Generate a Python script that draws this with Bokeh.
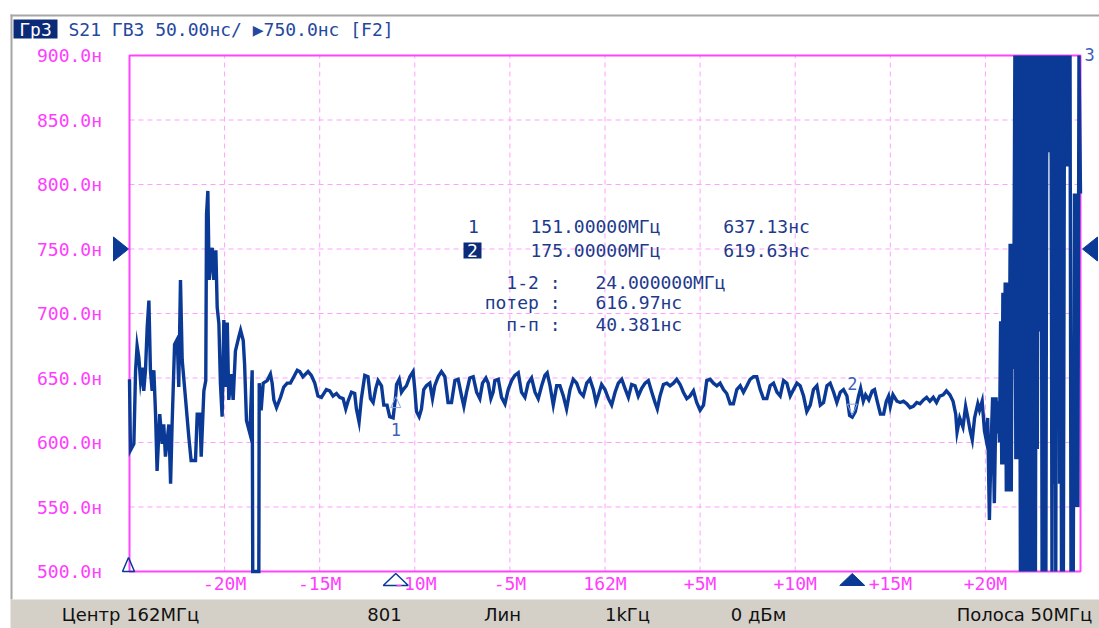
from bokeh.plotting import figure
from bokeh.models import Range1d, Label, BoxAnnotation
from bokeh.embed import file_html
from bokeh.resources import INLINE

# ---------------- data ----------------
center_mhz = 162.0
span_mhz = 50.0
start_mhz = 137.0
stop_mhz = 187.0
y_min_ns = 500.0
y_max_ns = 900.0
ref_level_ns = 750.0

freq_mhz = [
    137.00, 137.05, 137.23, 137.32, 137.40, 137.49, 137.58, 137.67, 137.75, 137.84,
    137.93, 138.02, 138.10, 138.19, 138.28, 138.37, 138.45, 138.59, 138.72, 138.80,
    138.89, 139.07, 139.16, 139.24, 139.37, 139.51, 139.59, 139.68, 139.77, 139.94,
    140.12, 140.24, 140.47, 140.56, 140.70, 140.77, 140.91, 141.01, 141.05, 141.12,
    141.19, 141.35, 141.43, 141.54, 141.61, 141.70, 141.78, 141.87, 141.96, 142.05,
    142.14, 142.22, 142.35, 142.45, 142.57, 142.75, 142.84, 142.98, 143.05, 143.15,
    143.33, 143.45, 143.48, 143.80, 143.82, 143.92, 144.03, 144.24, 144.41, 144.50,
    144.59, 144.73, 144.94, 145.11, 145.29, 145.46, 145.64, 145.82,
    145.95, 146.12, 146.39, 146.56, 146.74, 146.91, 147.09, 147.35, 147.53, 147.70,
    147.88, 148.05, 148.23, 148.37, 148.49, 148.67, 148.84, 148.93, 149.07, 149.19,
    149.37, 149.54, 149.67, 149.81, 149.95, 150.07, 150.25, 150.37, 150.54, 150.68,
    150.86, 151.00, 151.04, 151.18, 151.30, 151.39, 151.56, 151.74, 151.91, 152.00,
    152.09, 152.23, 152.35, 152.47, 152.61, 152.79, 152.93, 153.05, 153.23, 153.40,
    153.58, 153.75, 153.93, 154.11, 154.28, 154.46, 154.58, 154.72, 154.89, 155.07,
    155.25, 155.42, 155.56, 155.74, 155.86, 156.00, 156.12, 156.21, 156.39, 156.56,
    156.74, 156.91, 157.09, 157.26, 157.44, 157.61, 157.79, 157.96, 158.14, 158.32,
    158.49, 158.67, 158.84, 158.96, 159.11, 159.28, 159.46,
    159.63, 159.81, 159.98, 160.16, 160.33, 160.51, 160.68, 160.86, 161.04, 161.21,
    161.39, 161.53, 161.70, 161.82, 162.00, 162.18, 162.35, 162.53, 162.70, 162.88,
    163.05, 163.23, 163.40, 163.58, 163.75, 163.93, 164.11, 164.28, 164.46, 164.63,
    164.75, 164.89, 165.07, 165.25, 165.42, 165.60, 165.77, 165.95, 166.12, 166.30,
    166.47, 166.65, 166.82, 167.00, 167.18, 167.35, 167.53, 167.70, 167.88, 168.05,
    168.23, 168.40, 168.58, 168.75, 168.93, 169.11, 169.28, 169.46, 169.63, 169.81,
    169.98, 170.16, 170.33, 170.51, 170.68, 170.86, 171.04, 171.21, 171.39, 171.56,
    171.74, 171.91, 172.09, 172.26, 172.44, 172.61, 172.79, 172.96, 173.14, 173.32,
    173.49, 173.67, 173.84, 174.02, 174.19, 174.37, 174.54, 174.72, 174.86, 175.00,
    175.16, 175.33,
    175.44, 175.58, 175.70, 175.87, 176.05, 176.17, 176.31, 176.48, 176.65, 176.79,
    176.91, 177.00, 177.14, 177.35, 177.52, 177.69, 177.87, 178.04, 178.21, 178.39,
    178.56, 178.74, 178.91, 179.08, 179.26, 179.43, 179.60, 179.78, 179.95, 180.13,
    180.30, 180.44, 180.51, 180.65, 180.82, 180.96, 181.08, 181.20, 181.31, 181.43,
    181.60, 181.69, 181.83, 181.95, 182.03, 182.12, 182.21, 182.30, 182.38, 182.47,
    182.56,
    182.62, 182.68, 182.74, 182.80, 182.86, 182.92, 182.98, 183.04, 183.10, 183.16,
    183.22, 183.30, 183.36, 183.42, 183.48, 183.55, 183.60, 183.66, 183.72, 183.78,
    183.84, 183.88, 183.93, 183.98, 184.03, 184.08, 184.13, 184.18, 184.23, 184.28,
    184.33, 184.38, 184.43, 184.48, 184.53, 184.58, 184.63, 184.68, 184.73, 184.78,
    184.83, 184.88, 184.93, 184.98, 185.03, 185.08, 185.13, 185.18, 185.22, 185.28,
    185.34, 185.40, 185.46, 185.50, 185.55, 185.60, 185.65, 185.70, 185.75, 185.80,
    185.85, 185.90, 185.95, 186.00, 186.05, 186.10, 186.16, 186.22, 186.30, 186.38,
    186.45, 186.50, 186.56, 186.62, 186.68, 186.74, 186.80, 186.86, 186.92, 187.00,
]

delay_ns = [
    649, 594, 599, 656, 675, 666, 648, 658, 640, 656,
    689, 710, 656, 640, 656, 622, 578, 622, 599, 614,
    589, 614, 568, 614, 676, 680, 643, 726, 664, 635,
    604, 586, 586, 622, 622, 589, 640, 648, 777, 795,
    726, 751, 726, 749, 705, 692, 646, 620, 695, 643,
    693, 633, 653, 633, 671, 682, 687, 679, 661, 617,
    607, 656, 500, 500, 646, 625, 646, 648, 653, 646,
    633, 627, 635, 643, 646, 646, 651, 656,
    655, 651, 655, 652, 646, 636, 635, 641, 640, 636,
    638, 635, 634, 626, 632, 639, 638, 626, 616, 634,
    652, 651, 634, 631, 642, 648, 644, 629, 629, 620,
    619, 637.13, 645, 649, 639, 641, 644, 651, 655, 641,
    624, 620, 626, 641, 644, 646, 634, 644, 651, 655,
    651, 631, 631, 648, 649, 636, 628, 639, 650, 651,
    639, 634, 646, 650, 646, 634, 639, 648, 649, 635,
    630, 641, 648, 652, 654, 639, 635, 646, 650, 639,
    634, 644, 652, 654, 644, 629, 644,
    644, 636, 626, 641, 649, 646, 639, 636, 646, 649,
    641, 631, 639, 645, 641, 634, 629, 639, 646, 649,
    642, 635, 645, 644, 636, 642, 646, 648, 639, 631,
    626, 636, 645, 646, 644, 646, 649, 645, 639, 634,
    636, 640, 631, 625, 629, 648, 649, 646, 644, 646,
    641, 638, 630, 630, 641, 644, 639, 644, 649, 651,
    651, 641, 634, 634, 644, 646, 639, 636, 648, 646,
    636, 641, 646, 644, 636, 624, 629, 641, 644, 629,
    631, 644, 646, 639, 631, 639, 641, 636, 621, 619.63,
    624, 636,
    642, 632, 637, 633, 640, 641, 632, 622, 622, 632,
    636, 628, 637, 632, 631, 632, 630, 627, 628, 631,
    630, 633, 635, 632, 635, 631, 636, 637, 640, 637,
    632, 622, 608, 619, 612, 628, 619, 609, 602, 619,
    630, 625, 632, 609, 603, 619, 540, 599, 635, 553,
    635,
    607, 632, 600, 694, 583, 716, 583, 724, 562, 724,
    562, 754, 562, 754, 657, 900, 587, 900, 587, 900,
    500, 900, 500, 900, 500, 900, 500, 900, 500, 900,
    500, 900, 500, 900, 500, 900, 500, 900, 595, 900,
    686, 732, 900, 500, 900, 500, 900, 500, 820, 900,
    825, 900, 820, 500, 900, 568, 900, 500, 900, 680,
    900, 568, 900, 500, 900, 500, 900, 814, 900, 814,
    900, 500, 675, 500, 793, 550, 793, 550, 900, 793,
]

y_ticks = [500, 550, 600, 650, 700, 750, 800, 850, 900]
x_ticks = [142, 147, 152, 157, 162, 167, 172, 177, 182]
x_tick_labels = ["-20М", "-15М", "-10М", "-5М", "162М", "+5М", "+10М", "+15М", "+20М"]

marker_ids = ["1", "2"]
marker_freq_mhz = [151.0, 175.0]
marker_delay_ns = [637.13, 619.63]
marker3_freq_mhz = 137.0
delta_freq_mhz = 24.0
loss_ns = 616.97
pp_ns = 40.381

header_tag = "Гр3"
header_text = "S21 ГВЗ 50.00нс/ ▶750.0нс [F2]"
status_items = ["Центр 162МГц", "801", "Лин", "1kГц", "0 дБм", "Полоса 50МГц"]

# ---------------- layout / style ----------------
W, H = 1099, 628
BOX_L, BOX_R, BOX_T, BOX_B = 129, 1080, 55, 571      # pixel box of the grid
KX = (BOX_R - BOX_L) / (stop_mhz - start_mhz)         # px per MHz
KY = (BOX_B - BOX_T) / (y_max_ns - y_min_ns)          # px per ns
X0 = start_mhz - BOX_L / KX
Y1 = y_max_ns + BOX_T / KY

MONO = "DejaVu Sans Mono"
SANS = "DejaVu Sans"
MAGENTA = "#ff3cff"
BORDER = "#ff44ff"
GRID = "#ffa0ff"
TRACE = "#0a3a96"
HEAD_BLUE = "#2448a0"
TEXT_BLUE = "#1e3a8c"
NAVY = "#0b2a78"
LIGHT_BLUE = "#3d61b8"

p = figure(width=W, height=H, x_range=Range1d(X0, X0 + W / KX),
           y_range=Range1d(Y1 - H / KY, Y1), output_backend="svg",
           toolbar_location=None, title=None,
           x_axis_location=None, y_axis_location=None, min_border=0)
p.xgrid.visible = False
p.ygrid.visible = False
p.outline_line_color = None
p.background_fill_color = "white"
p.border_fill_color = "white"


def dx(px):
    return px / KX


def dy(px):
    return px / KY


def lab(x, y, text, xu="canvas", yu="canvas", color=TEXT_BLUE, size="18px",
        font=MONO, align="center", baseline="middle"):
    p.add_layout(Label(x=x, y=y, x_units=xu, y_units=yu, text=text, text_color=color,
                       text_font=font, text_font_size=size, text_align=align,
                       text_baseline=baseline))


def box(l, r, t, b, color):
    p.add_layout(BoxAnnotation(left=l, right=r, top=t, bottom=b,
                               left_units="canvas", right_units="canvas",
                               top_units="canvas", bottom_units="canvas",
                               fill_color=color, fill_alpha=1, line_color=None))


# window frame and status bar
box(10, W, 14, 16, "#a6a6a6")
box(10, 12, 14, 599, "#a6a6a6")
box(10, W, 599, H, "#d4d0c8")

# grid (dashed) and box outline
p.segment(x0=x_ticks, y0=[y_min_ns] * len(x_ticks), x1=x_ticks, y1=[y_max_ns] * len(x_ticks),
          line_color=GRID, line_width=1, line_dash="5 4")
inner_y = y_ticks[1:-1]
p.segment(x0=[start_mhz] * len(inner_y), y0=inner_y, x1=[stop_mhz] * len(inner_y), y1=inner_y,
          line_color=GRID, line_width=1, line_dash="5 4")
p.quad(left=[start_mhz], right=[stop_mhz], bottom=[y_min_ns], top=[y_max_ns],
       fill_color=None, line_color=BORDER, line_width=2)

# tick labels
for t in y_ticks:
    lab(69, t, f"{t:.1f}н", yu="data", color=MAGENTA)
for t, s in zip(x_ticks, x_tick_labels):
    lab(t, 583, s, xu="data", color=MAGENTA)

# trace
p.line(freq_mhz, delay_ns, line_color=TRACE, line_width=3.4, line_join="miter")

# markers on the trace
f1, v1 = marker_freq_mhz[0], marker_delay_ns[0]
f2, v2 = marker_freq_mhz[1], marker_delay_ns[1]
p.patches(xs=[[f1 - dx(5), f1, f1 + dx(5)], [f2 - dx(5), f2, f2 + dx(5)]],
          ys=[[v1 - dy(13), v1 - dy(2), v1 - dy(13)], [v2 + dy(13), v2 + dy(2), v2 + dy(13)]],
          fill_color=None, line_color="#8aa4ea", line_width=1)
lab(f1, 429, marker_ids[0], xu="data", color=LIGHT_BLUE, size="17px")
lab(f2, 383, marker_ids[1], xu="data", color=LIGHT_BLUE, size="17px")
lab(1089, 54, "3", color=LIGHT_BLUE, size="17px")

# stimulus markers below the grid
tri_top = y_min_ns - dy(2)
tri_bot = y_min_ns - dy(14)
p.patches(xs=[[f1 - dx(12.5), f1, f1 + dx(12.5)]], ys=[[tri_bot, tri_top, tri_bot]],
          fill_color=None, line_color=TRACE, line_width=1.5)
p.patches(xs=[[f2 - dx(12.5), f2, f2 + dx(12.5)]], ys=[[tri_bot, tri_top, tri_bot]],
          fill_color=TRACE, line_color=TRACE, line_width=1)
p.patches(xs=[[marker3_freq_mhz - dx(7), marker3_freq_mhz - dx(1), marker3_freq_mhz + dx(5)]],
          ys=[[y_min_ns, y_min_ns + dy(14), y_min_ns]],
          fill_color=None, line_color=TRACE, line_width=1.5)

# reference level arrows
p.patches(xs=[[start_mhz - dx(16), start_mhz - dx(1), start_mhz - dx(16)],
              [stop_mhz + dx(17), stop_mhz + dx(2), stop_mhz + dx(17)]],
          ys=[[ref_level_ns + dy(12), ref_level_ns, ref_level_ns - dy(12)],
              [ref_level_ns + dy(12), ref_level_ns, ref_level_ns - dy(12)]],
          fill_color=TRACE, line_color=TRACE, line_width=1)

# header
box(13, 57, 19, 38, NAVY)
lab(35, 28.5, header_tag, color="white")
lab(68, 29, header_text, color=HEAD_BLUE, align="left")

# marker readout
lab(473, 226, marker_ids[0])
lab(595, 226, f"{f1:.5f}МГц")
lab(766, 226, f"{v1:.2f}нс")
box(463, 481, 242, 258, NAVY)
lab(472, 250, marker_ids[1], color="white")
lab(595, 250, f"{f2:.5f}МГц")
lab(766, 250, f"{v2:.2f}нс")
lab(560, 281.5, "1-2 :", align="right")
lab(595, 281.5, f"{delta_freq_mhz:.6f}МГц", align="left")
lab(560, 302, "потер :", align="right")
lab(595, 302, f"{loss_ns:.2f}нс", align="left")
lab(560, 324, "п-п :", align="right")
lab(595, 324, f"{pp_ns:.3f}нс", align="left")

# status bar texts
status_cx = [130, 384, 502, 627, 758, 1024]
for cx, txt in zip(status_cx, status_items):
    lab(cx, 614, txt, color="#111111", font=SANS)

open("out.html", "w").write(file_html(p, INLINE))
